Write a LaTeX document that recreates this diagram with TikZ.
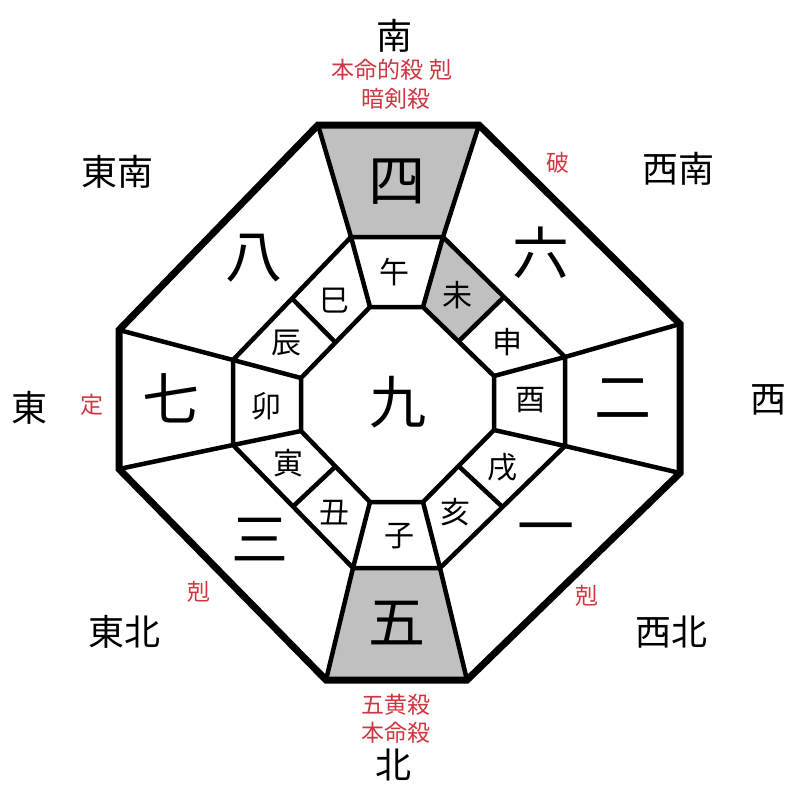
\documentclass[tikz,border=0pt]{standalone}
\usepackage{fontspec}
\newfontfamily\cjk{Noto Sans CJK JP}
\usetikzlibrary{calc}
\definecolor{cellgray}{RGB}{192,192,192}
\definecolor{redtxt}{RGB}{205,55,65}
\begin{document}
\begin{tikzpicture}[x=1pt,y=-1pt,
  big/.style={font=\cjk\fontsize{57}{57}\selectfont, inner sep=0pt},
  branch/.style={font=\cjk\fontsize{30}{30}\selectfont, inner sep=0pt},
  dirlabel/.style={font=\cjk\fontsize{36}{36}\selectfont, inner sep=0pt},
  redlabel/.style={font=\cjk\fontsize{23}{23}\selectfont, text=redtxt, inner sep=0pt},
  gridline/.style={line width=4.5pt, line join=miter},
  outerline/.style={line width=7pt, line join=miter}
]
\useasboundingbox (0,0) rectangle (800,800);
% outer octagon
\coordinate (o1) at (318,125);
\coordinate (o2) at (479,125);
\coordinate (o3) at (680,324);
\coordinate (o4) at (680,473);
\coordinate (o5) at (467,680);
\coordinate (o6) at (326,680);
\coordinate (o7) at (119,469);
\coordinate (o8) at (119,330);
% middle ring
\coordinate (m1) at (351,237);
\coordinate (m2) at (443,237);
\coordinate (m3) at (565,357);
\coordinate (m4) at (565,446);
\coordinate (m5) at (440,568);
\coordinate (m6) at (353,568);
\coordinate (m7) at (233,445);
\coordinate (m8) at (233,360);
% inner octagon
\coordinate (i1) at (370,307);
\coordinate (i2) at (423,307);
\coordinate (i3) at (494,376);
\coordinate (i4) at (494,430);
\coordinate (i5) at (423,502);
\coordinate (i6) at (370,502);
\coordinate (i7) at (301,431);
\coordinate (i8) at (301,378);
% midpoints for diagonal branch dividers
\coordinate (a23) at ($(i2)!0.5!(i3)$);
\coordinate (b23) at ($(m2)!0.5!(m3)$);
\coordinate (a45) at ($(i4)!0.5!(i5)$);
\coordinate (b45) at ($(m4)!0.5!(m5)$);
\coordinate (a67) at ($(i6)!0.5!(i7)$);
\coordinate (b67) at ($(m6)!0.5!(m7)$);
\coordinate (a81) at ($(i8)!0.5!(i1)$);
\coordinate (b81) at ($(m8)!0.5!(m1)$);
% gray cells
\fill[cellgray] (o1) -- (o2) -- (m2) -- (m1) -- cycle;
\fill[cellgray] (o6) -- (o5) -- (m5) -- (m6) -- cycle;
\fill[cellgray] (i2) -- (m2) -- (b23) -- (a23) -- cycle;
% grid lines
\draw[gridline] (m1) -- (m2) -- (m3) -- (m4) -- (m5) -- (m6) -- (m7) -- (m8) -- cycle;
\draw[gridline] (i1) -- (i2) -- (i3) -- (i4) -- (i5) -- (i6) -- (i7) -- (i8) -- cycle;
\draw[gridline] (o1) -- (m1) -- (i1);
\draw[gridline] (o2) -- (m2) -- (i2);
\draw[gridline] (o3) -- (m3) -- (i3);
\draw[gridline] (o4) -- (m4) -- (i4);
\draw[gridline] (o5) -- (m5) -- (i5);
\draw[gridline] (o6) -- (m6) -- (i6);
\draw[gridline] (o7) -- (m7) -- (i7);
\draw[gridline] (o8) -- (m8) -- (i8);
\draw[gridline] (a23) -- (b23);
\draw[gridline] (a45) -- (b45);
\draw[gridline] (a67) -- (b67);
\draw[gridline] (a81) -- (b81);
\draw[outerline] (o1) -- (o2) -- (o3) -- (o4) -- (o5) -- (o6) -- (o7) -- (o8) -- cycle;
% big numbers
\node[big] (n4) at (397,182) {四};
\node[big] (n8) at (254,258) {八};
\node[big] (n6) at (541,253) {六};
\node[big] (n7) at (171,398) {七};
\node[big] (n9) at (398,402) {九};
\node[big] (n2) at (623,399) {二};
\node[big] (n3) at (260,540) {三};
\node[big] (n1) at (546,535) {一};
\node[big] (n5) at (397,623) {五};
% branches
\node[branch] (bwu) at (394,272) {午};
\node[branch] (bwei) at (457,295) {未};
\node[branch] (bsi) at (334,301) {巳};
\node[branch] (bchen) at (286,343) {辰};
\node[branch] (bshen) at (507,342) {申};
\node[branch] (bmao) at (266,406) {卯};
\node[branch] (byou) at (530,400) {酉};
\node[branch] (byin) at (288,463) {寅};
\node[branch] (bxu) at (502,467) {戌};
\node[branch] (bchou) at (334,513) {丑};
\node[branch] (bhai) at (455,512) {亥};
\node[branch] (bzi) at (399,536) {子};
% directions
\node[dirlabel] (dS) at (394,36) {南};
\node[dirlabel] (dN) at (393,765) {北};
\node[dirlabel] (dE) at (30,408) {東};
\node[dirlabel] (dW) at (768,400) {西};
\node[dirlabel] (dSE) at (117,172) {東南};
\node[dirlabel] (dSW) at (678,169) {西南};
\node[dirlabel] (dNE) at (124,632) {東北};
\node[dirlabel] (dNW) at (671,632) {西北};
% red labels
\node[redlabel] (rS1) at (392,70) {本命的殺 剋};
\node[redlabel] (rS2) at (396,99) {暗剣殺};
\node[redlabel] (rN1) at (396,705) {五黄殺};
\node[redlabel] (rN2) at (396,733) {本命殺};
\node[redlabel] (rE) at (92,405) {定};
\node[redlabel] (rSW) at (558,163) {破};
\node[redlabel] (rNE) at (199,592) {剋};
\node[redlabel] (rNW) at (587,596) {剋};
\end{tikzpicture}
\end{document}
